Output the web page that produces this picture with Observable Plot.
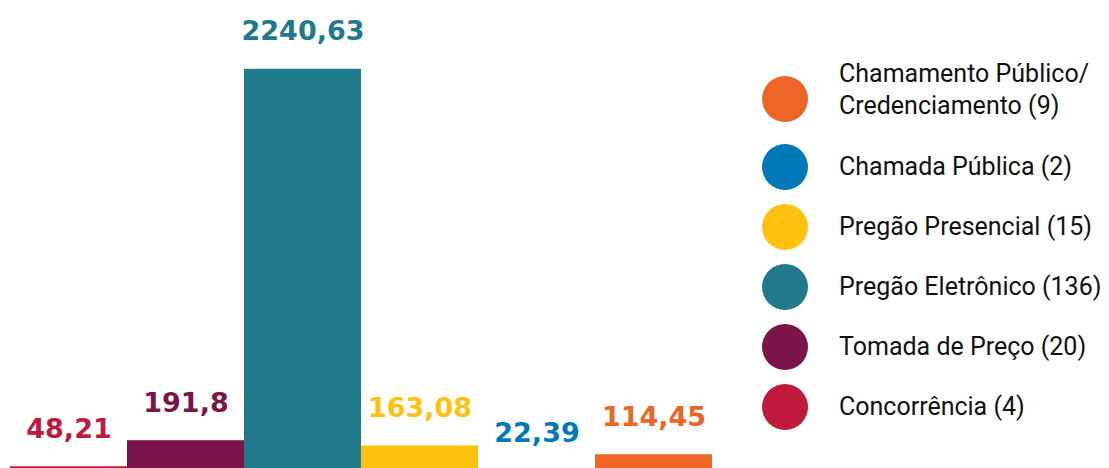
<!DOCTYPE html>
<html>
<head>
<meta charset="utf-8">
<script src="https://cdn.jsdelivr.net/npm/d3@7"></script>
<script src="https://cdn.jsdelivr.net/npm/@observablehq/plot@0.6"></script>
<style>
  html, body { margin: 0; padding: 0; background: #fff; overflow: hidden; }
  #wrap { position: relative; width: 1109px; height: 468px; }
  #chart { position: absolute; left: 0; top: 0; }
  #legend { position: absolute; left: 762px; top: 0; font-family: Roboto, sans-serif; font-size: 25px; color: #111; }
  .item { position: absolute; left: 0; display: flex; align-items: center; }
  .sw { width: 46px; height: 46px; border-radius: 50%; flex: none; }
  .lab { margin-left: 31px; line-height: 32px; white-space: nowrap; position: relative; }
</style>
</head>
<body>
<div id="wrap">
  <div id="chart"></div>
  <div id="legend"></div>
</div>
<script>
// Data
const categories = ["Concorrência", "Tomada de Preço", "Pregão Eletrônico", "Pregão Presencial", "Chamada Pública", "Chamamento Público/ Credenciamento"];
const values = [48.21, 191.8, 2240.63, 163.08, 22.39, 114.45];
const counts = [4, 20, 136, 15, 2, 9];
const colors = ["#BF1A3E", "#7B1448", "#217A8B", "#FDC210", "#0079B8", "#EC6426"];
const legendLabels = ["Concorrência (4)", "Tomada de Preço (20)", "Pregão Eletrônico (136)", "Pregão Presencial (15)", "Chamada Pública (2)", "Chamamento Público/\nCredenciamento (9)"];

const data = categories.map((c, i) => ({cat: c, value: values[i], color: colors[i]}));
const fmt = v => String(v).replace(".", ",");

const chart = Plot.plot({
  width: 740,
  height: 468,
  marginLeft: 10,
  marginRight: 28,
  marginTop: 0,
  marginBottom: 0,
  x: {domain: categories, padding: 0, axis: null},
  y: {domain: [0, 2620], range: [475, 0], axis: null},
  style: {background: "#fff", overflow: "hidden"},
  marks: [
    Plot.barY(data, {x: "cat", y: "value", fill: "color", inset: 0}),
    Plot.text(data, {
      x: "cat", y: "value", text: d => fmt(d.value), fill: "color",
      lineAnchor: "bottom", dy: -29,
      fontSize: 27, fontWeight: "bold", fontFamily: "DejaVu Sans"
    })
  ]
});
document.getElementById("chart").appendChild(chart);

// Legend (reverse order, top to bottom)
const legendTops = [67, 144, 204, 264, 324, 384]; // circle top positions
const order = [5, 4, 3, 2, 1, 0];
const legend = document.getElementById("legend");
order.forEach((idx, k) => {
  const item = document.createElement("div");
  item.className = "item";
  item.style.top = legendTops[k] + "px";
  const sw = document.createElement("div");
  sw.className = "sw";
  sw.style.background = colors[idx];
  const lab = document.createElement("div");
  lab.className = "lab";
  const lines = legendLabels[idx].split("\n");
  if (lines.length > 1) lab.style.top = "-9px";
  lab.innerHTML = lines.join("<br>");
  item.appendChild(sw);
  item.appendChild(lab);
  legend.appendChild(item);
});
</script>
</body>
</html>
